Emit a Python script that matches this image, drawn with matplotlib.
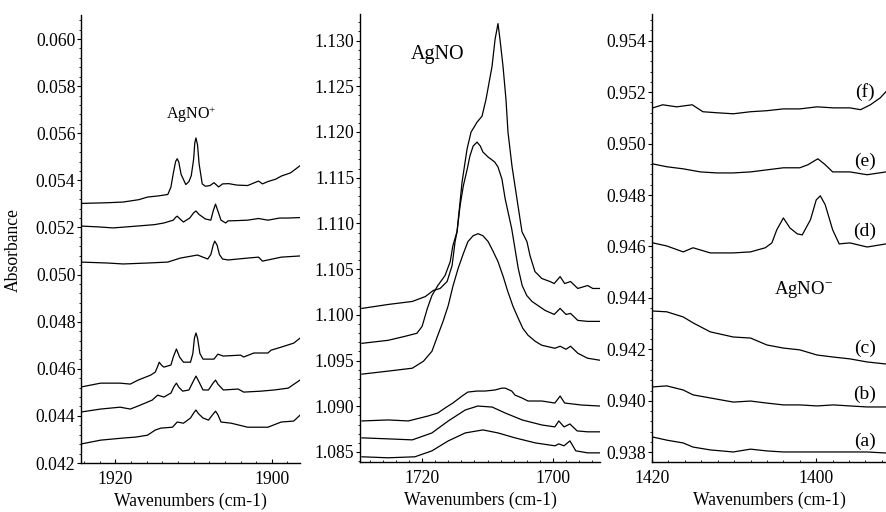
import matplotlib
matplotlib.use("Agg")
from matplotlib import pyplot as plt
from matplotlib.ticker import MultipleLocator, FormatStrFormatter

plt.rcParams['font.family'] = ['Liberation Serif', 'DejaVu Serif']
plt.rcParams['mathtext.fontset'] = 'custom'
plt.rcParams['mathtext.rm'] = 'Liberation Serif'
plt.rcParams['mathtext.default'] = 'regular'

# AgNO+ region (left panel)
cat_x1 = [1924.4, 1921.0, 1919.0, 1917.0, 1915.9, 1914.5, 1913.3, 1912.9, 1912.6, 1912.3, 1912.1, 1911.9,
          1911.6, 1911.0, 1910.6, 1910.3, 1910.0, 1909.85, 1909.7, 1909.5, 1909.3, 1908.9, 1908.5, 1907.9,
          1907.4, 1906.8, 1906.3, 1905.5, 1904.5, 1903.1, 1901.7, 1901.2, 1900.5, 1899.5, 1898.8, 1897.6, 1896.4]
cat_y1 = [0.05302, 0.05305, 0.05308, 0.05318, 0.05329, 0.05334, 0.05340, 0.05372, 0.05430, 0.05480, 0.05492, 0.05478,
          0.05425, 0.05382, 0.05395, 0.05420, 0.05490, 0.05560, 0.05580, 0.05550, 0.05470, 0.05385, 0.05375, 0.05378,
          0.05390, 0.05372, 0.05385, 0.05386, 0.05380, 0.05378, 0.05397, 0.05385, 0.05395, 0.05405, 0.05418, 0.05432, 0.05462]

cat_x2 = [1924.4, 1922.0, 1920.3, 1917.2, 1915.0, 1913.8, 1912.6, 1912.3, 1912.1, 1911.8, 1911.3, 1910.5,
          1910.0, 1909.7, 1909.3, 1908.5, 1907.8, 1907.5, 1907.2, 1906.9, 1906.5, 1905.9, 1905.6, 1904.5,
          1903.1, 1901.7, 1900.5, 1899.0, 1897.9, 1896.4]
cat_y2 = [0.05206, 0.05202, 0.05198, 0.05206, 0.05212, 0.05219, 0.05231, 0.05243, 0.05248, 0.05238, 0.05223, 0.05240,
          0.05262, 0.05270, 0.05255, 0.05236, 0.05231, 0.05270, 0.05299, 0.05270, 0.05231, 0.05219, 0.05228, 0.05229,
          0.05231, 0.05238, 0.05231, 0.05240, 0.05240, 0.05242]

cat_x3 = [1924.4, 1921.0, 1919.0, 1915.9, 1913.3, 1911.7, 1909.5, 1908.2, 1907.8, 1907.5, 1907.3, 1907.0,
          1906.7, 1906.3, 1905.6, 1903.1, 1901.7, 1901.2, 1898.8, 1896.4]
cat_y3 = [0.05053, 0.05049, 0.05045, 0.05049, 0.05053, 0.05070, 0.05083, 0.05066, 0.05085, 0.05125, 0.05142, 0.05125,
          0.05085, 0.05066, 0.05062, 0.05070, 0.05074, 0.05057, 0.05074, 0.05079]

cat_x4 = [1924.5, 1921.9, 1919.4, 1918.1, 1917.1, 1915.5, 1914.9, 1914.6, 1914.4, 1914.1, 1913.8, 1912.9,
          1912.6, 1912.2, 1911.8, 1911.3, 1910.4, 1910.1, 1909.9, 1909.7, 1909.5, 1909.2, 1908.8, 1907.4,
          1906.9, 1906.2, 1904.0, 1903.6, 1902.3, 1900.5, 1900.1, 1898.8, 1897.2, 1896.4]
cat_y4 = [0.04522, 0.04539, 0.04539, 0.04535, 0.04552, 0.04573, 0.04586, 0.04610, 0.04628, 0.04615, 0.04607, 0.04616,
          0.04650, 0.04684, 0.04650, 0.04628, 0.04628, 0.04665, 0.04730, 0.04752, 0.04730, 0.04665, 0.04641, 0.04641,
          0.04662, 0.04654, 0.04658, 0.04650, 0.04667, 0.04667, 0.04679, 0.04692, 0.04709, 0.04730]

cat_x5 = [1924.5, 1921.9, 1919.4, 1918.1, 1916.8, 1915.3, 1914.6, 1913.8, 1912.9, 1912.5, 1912.2, 1911.9,
          1911.4, 1910.6, 1910.0, 1909.7, 1909.4, 1908.8, 1908.1, 1907.5, 1907.2, 1906.9, 1906.2, 1904.3,
          1903.6, 1901.4, 1899.7, 1897.9, 1896.4]
cat_y5 = [0.04416, 0.04429, 0.04437, 0.04429, 0.04446, 0.04467, 0.04488, 0.04480, 0.04497, 0.04525, 0.04539, 0.04522,
          0.04505, 0.04510, 0.04550, 0.04569, 0.04550, 0.04510, 0.04510, 0.04540, 0.04552, 0.04535, 0.04510, 0.04514,
          0.04501, 0.04505, 0.04510, 0.04518, 0.04552]

cat_x6 = [1924.5, 1921.9, 1919.0, 1917.4, 1915.9, 1914.9, 1914.2, 1912.7, 1912.1, 1911.3, 1910.4, 1910.0,
          1909.7, 1909.4, 1908.8, 1908.1, 1907.5, 1907.2, 1906.9, 1906.5, 1905.2, 1903.1, 1900.5, 1898.8,
          1897.2, 1896.4]
cat_y6 = [0.04280, 0.04297, 0.04306, 0.04310, 0.04318, 0.04340, 0.04348, 0.04352, 0.04374, 0.04369, 0.04391, 0.04412,
          0.04425, 0.04410, 0.04391, 0.04382, 0.04408, 0.04420, 0.04405, 0.04374, 0.04369, 0.04352, 0.04352, 0.04374,
          0.04378, 0.04403]

# AgNO region (middle panel)
neu_x1 = [1729.2, 1725.2, 1721.5, 1719.5, 1718.3, 1717.25, 1716.18, 1715.42, 1714.96, 1714.66, 1713.89, 1713.13,
          1712.52, 1711.60, 1710.84, 1710.23, 1709.31, 1708.85, 1708.40, 1708.09, 1707.63, 1707.18, 1706.87,
          1706.26, 1705.50, 1704.73, 1703.97, 1703.5, 1702.75, 1701.7, 1700.45, 1699.8, 1698.9, 1698.2, 1697.3,
          1696.2, 1694.7, 1693.9, 1692.8]
neu_y1 = [1.10070, 1.10113, 1.10146, 1.10200, 1.10266, 1.10288, 1.10364, 1.10538, 1.10800, 1.10909, 1.11453, 1.11813,
          1.11998, 1.12107, 1.12172, 1.12357, 1.12717, 1.13011, 1.13185, 1.13011, 1.12717, 1.12357, 1.11998,
          1.11627, 1.11268, 1.10909, 1.10800, 1.10647, 1.10473, 1.10397, 1.10364, 1.10342, 1.10418, 1.10342, 1.10364,
          1.10288, 1.10320, 1.10288, 1.10288]

neu_x2 = [1729.2, 1725.2, 1722.6, 1720.8, 1720.0, 1719.2, 1718.5, 1717.6, 1716.5, 1715.7, 1715.3, 1714.66,
          1714.2, 1713.7, 1713.1, 1712.7, 1712.2, 1711.6, 1711.1, 1710.7, 1709.9, 1708.9, 1708.4, 1707.8,
          1707.3, 1706.3, 1705.8, 1705.3, 1704.7, 1704.0, 1703.2, 1701.2, 1699.8, 1698.9, 1698.0, 1697.3,
          1696.2, 1694.7, 1692.8]
neu_y2 = [1.09688, 1.09721, 1.09765, 1.09798, 1.09874, 1.10070, 1.10211, 1.10320, 1.10429, 1.10582, 1.10756, 1.10909,
          1.11192, 1.11410, 1.11595, 1.11736, 1.11845, 1.11889, 1.11845, 1.11780, 1.11725, 1.11671, 1.11617, 1.11486,
          1.11268, 1.10941, 1.10723, 1.10506, 1.10320, 1.10211, 1.10146, 1.10048, 1.10004, 1.10070, 1.10004, 1.10015,
          1.09939, 1.09928, 1.09928]

neu_x3 = [1729.2, 1725.2, 1721.5, 1719.8, 1718.5, 1717.6, 1716.8, 1716.0, 1715.3, 1714.5, 1713.7, 1713.0,
          1712.2, 1711.45, 1710.7, 1709.9, 1709.2, 1708.4, 1707.6, 1706.9, 1706.1, 1705.3, 1704.6, 1703.8,
          1702.7, 1701.7, 1699.7, 1698.9, 1698.0, 1697.3, 1696.2, 1694.7, 1692.8]
neu_y3 = [1.09351, 1.09384, 1.09416, 1.09492, 1.09601, 1.09776, 1.09928, 1.10103, 1.10310, 1.10506, 1.10669, 1.10800,
          1.10865, 1.10887, 1.10865, 1.10800, 1.10702, 1.10582, 1.10418, 1.10255, 1.10092, 1.09961, 1.09852, 1.09776,
          1.09710, 1.09667, 1.09634, 1.09656, 1.09623, 1.09656, 1.09580, 1.09525, 1.09503]

neu_x4 = [1729.2, 1725.2, 1722.1, 1719.1, 1717.6, 1716.5, 1715.3, 1713.9, 1713.0, 1711.6, 1710.4, 1708.9,
          1707.8, 1707.3, 1706.3, 1705.8, 1704.7, 1703.8, 1701.7, 1699.7, 1698.9, 1698.2, 1695.6, 1692.8]
neu_y4 = [1.08839, 1.08850, 1.08839, 1.08893, 1.08926, 1.08980, 1.09035, 1.09111, 1.09155, 1.09166, 1.09166, 1.09177,
          1.09198, 1.09198, 1.09166, 1.09122, 1.09089, 1.09057, 1.09057, 1.09035, 1.09111, 1.09035, 1.09013, 1.09002]

neu_x5 = [1729.2, 1725.2, 1721.5, 1718.5, 1716.0, 1713.4, 1711.5, 1709.3, 1707.3, 1704.7, 1701.7,
          1699.7, 1699.1, 1698.3, 1697.4, 1696.3, 1694.7, 1692.8]
neu_y5 = [1.08654, 1.08643, 1.08632, 1.08708, 1.08839, 1.08959, 1.09002, 1.08991, 1.08926, 1.08850, 1.08795,
          1.08774, 1.08839, 1.08774, 1.08806, 1.08730, 1.08720, 1.08720]

neu_x6 = [1729.2, 1725.2, 1721.1, 1718.5, 1716.0, 1713.4, 1710.7, 1708.4, 1705.8, 1702.7, 1699.7,
          1699.1, 1698.3, 1697.4, 1696.5, 1694.7, 1692.8]
neu_y6 = [1.08447, 1.08436, 1.08447, 1.08512, 1.08621, 1.08708, 1.08741, 1.08708, 1.08654, 1.08599, 1.08567,
          1.08588, 1.08567, 1.08621, 1.08512, 1.08490, 1.08490]

# AgNO- region (right panel), traces (a)-(f)
an_x = [1419.9, 1418.2, 1416.2, 1415.0, 1412.9, 1410.1, 1408.0, 1406.0, 1404.0, 1402.0,
        1399.9, 1397.9, 1395.9, 1393.8, 1391.5]
an_ya = [0.93859, 0.93847, 0.93836, 0.93820, 0.93809, 0.93801, 0.93812, 0.93805, 0.93801, 0.93801,
         0.93801, 0.93801, 0.93801, 0.93801, 0.93797]
an_yb = [0.94054, 0.94058, 0.94042, 0.94023, 0.94011, 0.93995, 0.93999, 0.93991, 0.93984, 0.93984,
         0.93980, 0.93984, 0.93980, 0.93976, 0.93976]
an_yc = [0.94349, 0.94346, 0.94326, 0.94303, 0.94268, 0.94248, 0.94244, 0.94217, 0.94205, 0.94198,
         0.94178, 0.94170, 0.94163, 0.94151, 0.94143]

an_xd = [1419.9, 1418.2, 1416.2, 1415.0, 1412.9, 1410.1, 1408.0, 1406.2, 1405.4, 1404.8, 1404.0,
         1403.2, 1402.3, 1401.7, 1400.7, 1400.0, 1399.5, 1398.9, 1398.0, 1397.2, 1395.9, 1393.8, 1391.5]
an_yd = [0.94614, 0.94602, 0.94579, 0.94595, 0.94575, 0.94575, 0.94579, 0.94595, 0.94614, 0.94665, 0.94711,
         0.94672, 0.94649, 0.94645, 0.94704, 0.94781, 0.94797, 0.94762, 0.94665, 0.94610, 0.94614, 0.94598, 0.94610]

an_xe = [1419.9, 1418.2, 1416.2, 1414.1, 1412.1, 1410.1, 1408.0, 1406.0, 1404.0, 1402.0, 1401.0,
         1399.8, 1398.9, 1398.0, 1395.9, 1393.8, 1391.5]
an_ye = [0.94921, 0.94910, 0.94902, 0.94890, 0.94886, 0.94886, 0.94890, 0.94898, 0.94906, 0.94906, 0.94918,
         0.94941, 0.94918, 0.94890, 0.94890, 0.94879, 0.94890]

an_xf = [1419.9, 1418.7, 1417.0, 1415.1, 1413.8, 1412.1, 1410.1, 1408.0, 1406.0, 1404.0, 1402.0,
         1399.9, 1397.9, 1395.9, 1394.6, 1393.4, 1392.2, 1391.5]
an_yf = [0.95139, 0.95151, 0.95143, 0.95151, 0.95124, 0.95120, 0.95116, 0.95124, 0.95128, 0.95135, 0.95135,
         0.95143, 0.95139, 0.95139, 0.95132, 0.95151, 0.95178, 0.95202]

trace_labels = ['(a)', '(b)', '(c)', '(d)', '(e)', '(f)']

FS = 12.7


def style_axis(ax, xlim, ylim, xticks, ystep, fmt):
    ax.set_xlim(*xlim)
    ax.set_ylim(*ylim)
    ax.set_xticks(xticks)
    ax.xaxis.set_minor_locator(MultipleLocator(2))
    ax.yaxis.set_major_locator(MultipleLocator(ystep))
    ax.yaxis.set_minor_locator(MultipleLocator(ystep / 5))
    ax.yaxis.set_major_formatter(FormatStrFormatter(fmt))
    for s in ['top', 'right']:
        ax.spines[s].set_visible(False)
    for s in ['left', 'bottom']:
        ax.spines[s].set_linewidth(1.0)
    ax.tick_params(axis='y', which='major', direction='out', length=3, width=0.8, labelsize=FS, pad=1)
    ax.tick_params(axis='y', which='minor', direction='out', length=1.5, width=0.6)
    ax.tick_params(axis='x', which='major', direction='in', length=3, width=0.8, labelsize=FS, pad=6)
    ax.tick_params(axis='x', which='minor', direction='in', length=1.5, width=0.6)
    ax.set_xlabel('Wavenumbers (cm-1)', fontsize=FS, labelpad=3)
    ax.patch.set_alpha(0)


fig = plt.figure(figsize=(8.86, 5.12), dpi=100)

ax1 = fig.add_axes([81 / 886, 1 - 463 / 512, 219 / 886, 448 / 512])
for x, y in [(cat_x1, cat_y1), (cat_x2, cat_y2), (cat_x3, cat_y3),
             (cat_x4, cat_y4), (cat_x5, cat_y5), (cat_x6, cat_y6)]:
    ax1.plot(x, y, color='black', lw=0.9)
style_axis(ax1, (1924.4, 1896.4), (0.0420, 0.06102), [1920, 1900], 0.002, '%.3f')
ax1.set_ylabel('Absorbance', fontsize=FS)
ax1.yaxis.set_label_coords(-0.27, 0.475)
ax1.text(1910.3, 0.05677, 'AgNO$^{+}$', ha='center', va='center', fontsize=11.5)

ax2 = fig.add_axes([360 / 886, 1 - 462 / 512, 240 / 886, 448 / 512])
for x, y in [(neu_x1, neu_y1), (neu_x2, neu_y2), (neu_x3, neu_y3),
             (neu_x4, neu_y4), (neu_x5, neu_y5), (neu_x6, neu_y6)]:
    ax2.plot(x, y, color='black', lw=0.9)
style_axis(ax2, (1729.5, 1692.8), (1.0839, 1.1329), [1720, 1700], 0.005, '%.3f')
ax2.text(1717.7, 1.1285, 'AgNO', ha='center', va='center', fontsize=14.5)

ax3 = fig.add_axes([652 / 886, 1 - 462 / 512, 234 / 886, 448 / 512])
traces = [(an_x, an_ya), (an_x, an_yb), (an_x, an_yc),
          (an_xd, an_yd), (an_xe, an_ye), (an_xf, an_yf)]
for x, y in traces:
    ax3.plot(x, y, color='black', lw=0.9)
style_axis(ax3, (1420, 1391.5), (0.93762, 0.95504), [1420, 1400], 0.002, '%.3f')
ax3.text(1401.6, 0.94431, 'AgNO$^{-}$', ha='center', va='center', fontsize=13.5)
label_y = [0.93844, 0.94026, 0.94205, 0.94657, 0.94933, 0.95202]
for lab, ly in zip(trace_labels, label_y):
    ax3.text(1394.1, ly, lab, ha='center', va='center', fontsize=14)

fig.savefig('out.png', dpi=100)
